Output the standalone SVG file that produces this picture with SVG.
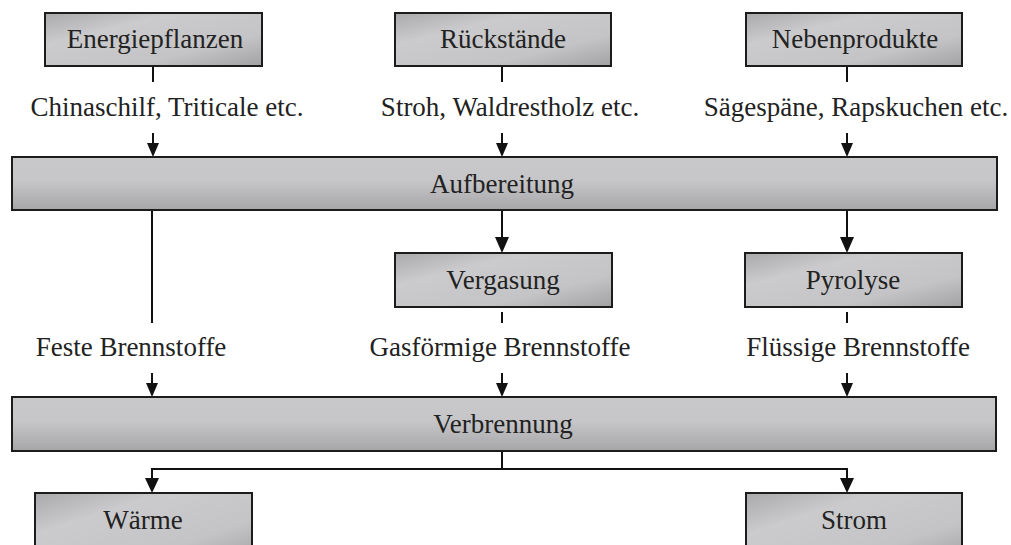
<svg xmlns="http://www.w3.org/2000/svg" width="1011" height="545" viewBox="0 0 1011 545">
<style>
.box{stroke:#1c1c1c;stroke-width:2;fill:url(#g)}
.wide{stroke:#1c1c1c;stroke-width:2;fill:url(#gw)}
text{font-family:"Liberation Serif","Times New Roman",serif;font-size:27px;fill:#222;text-anchor:middle}
.ln{stroke:#111;stroke-width:2;fill:none}
</style>
<defs>
<linearGradient id="g" x1="0" y1="0" x2="1" y2="1">
<stop offset="0" stop-color="#a9a9ab"/>
<stop offset="0.3" stop-color="#cbcbcd"/>
<stop offset="0.7" stop-color="#c4c4c6"/>
<stop offset="1" stop-color="#a2a2a4"/>
</linearGradient>
<linearGradient id="gw" x1="0" y1="0" x2="0" y2="1">
<stop offset="0" stop-color="#c9c9cb"/>
<stop offset="0.45" stop-color="#c6c6c8"/>
<stop offset="1" stop-color="#a6a6a8"/>
</linearGradient>
</defs>
<g id="connectors">
<line class="ln" x1="153" y1="66" x2="153" y2="82"/>
<line class="ln" x1="502" y1="66" x2="502" y2="82"/>
<line class="ln" x1="847" y1="66" x2="847" y2="82"/>
<path class="ln" d="M153,133 V143" />
<path d="M147,143 L159,143 L153,157 Z" fill="#111"/>
<path class="ln" d="M502,133 V143" />
<path d="M496,143 L508,143 L502,157 Z" fill="#111"/>
<path class="ln" d="M847,133 V143" />
<path d="M841,143 L853,143 L847,157 Z" fill="#111"/>
<path class="ln" d="M502,210 V238" />
<path d="M495,237 L509,237 L502,253 Z" fill="#111"/>
<path class="ln" d="M847,210 V238" />
<path d="M840,237 L854,237 L847,253 Z" fill="#111"/>
<line class="ln" x1="152" y1="210" x2="152" y2="323"/>
<line class="ln" x1="502" y1="312" x2="502" y2="323"/>
<line class="ln" x1="847" y1="312" x2="847" y2="323"/>
<path class="ln" d="M152,373 V383" />
<path d="M146,383 L158,383 L152,397 Z" fill="#111"/>
<path class="ln" d="M502,373 V383" />
<path d="M496,383 L508,383 L502,397 Z" fill="#111"/>
<path class="ln" d="M847,373 V383" />
<path d="M841,383 L853,383 L847,397 Z" fill="#111"/>
<path class="ln" d="M502,451 V469 M152,479 V469 H847 V479" />
<path d="M145,478 L159,478 L152,493 Z" fill="#111"/>
<path d="M840,478 L854,478 L847,493 Z" fill="#111"/>
<text x="167" y="116">Chinaschilf, Triticale etc.</text>
<text x="510" y="116">Stroh, Waldrestholz etc.</text>
<text x="856" y="116">Sägespäne, Rapskuchen etc.</text>
<text x="131" y="356">Feste Brennstoffe</text>
<text x="500" y="356">Gasförmige Brennstoffe</text>
<text x="858" y="356">Flüssige Brennstoffe</text>
</g>
<g id="energiepflanzen"><rect class="box" x="45" y="13" width="217" height="53"/><text x="155" y="48">Energiepflanzen</text></g>
<g id="rueckstaende"><rect class="box" x="395" y="13" width="216" height="53"/><text x="503" y="48">Rückstände</text></g>
<g id="nebenprodukte"><rect class="box" x="746" y="13" width="216" height="53"/><text x="855" y="48">Nebenprodukte</text></g>
<g id="aufbereitung"><rect class="wide" x="12" y="157" width="985" height="53"/><text x="502" y="193">Aufbereitung</text></g>
<g id="vergasung"><rect class="box" x="395" y="253" width="217" height="54"/><text x="503" y="289">Vergasung</text></g>
<g id="pyrolyse"><rect class="box" x="745" y="253" width="217" height="54"/><text x="853" y="289">Pyrolyse</text></g>
<g id="verbrennung"><rect class="wide" x="12" y="397" width="984" height="54"/><text x="503" y="433">Verbrennung</text></g>
<g id="waerme"><rect class="box" x="35" y="493" width="217" height="70"/><text x="143" y="529">Wärme</text></g>
<g id="strom"><rect class="box" x="746" y="493" width="216" height="70"/><text x="854" y="529">Strom</text></g>
</svg>
